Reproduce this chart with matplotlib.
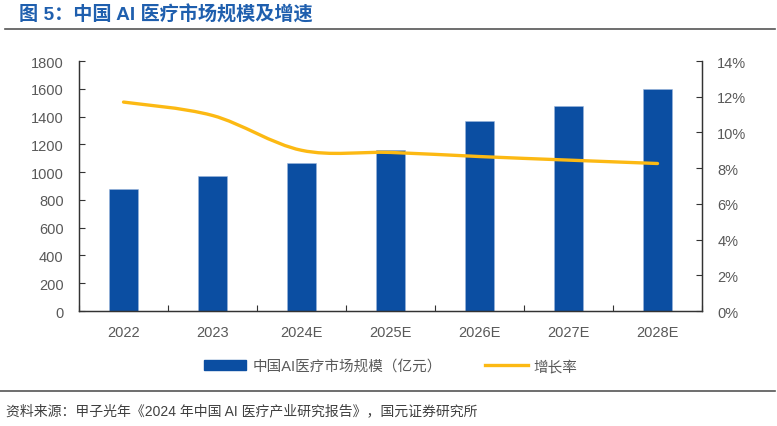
import numpy as np
import matplotlib.pyplot as plt
from matplotlib.path import Path
from matplotlib.patches import PathPatch, Patch
from matplotlib.lines import Line2D
from matplotlib.ticker import FuncFormatter, MultipleLocator

plt.rcParams['font.family'] = ['Liberation Sans', 'Noto Sans CJK SC', 'DejaVu Sans']

years = ["2022", "2023", "2024E", "2025E", "2026E", "2027E", "2028E"]
market = [876, 972, 1063, 1160, 1365, 1478, 1600]
growth = [11.7, 10.95, 9.0, 8.88, 8.65, 8.45, 8.26]

BAR = "#0b4ea2"
LINE = "#fcb913"
GRAY = "#595959"
CJK = ['Liberation Sans', 'Noto Sans CJK SC']

fig = plt.figure(figsize=(7.77, 4.27), dpi=100)
ax = fig.add_axes([0.1017, 0.2693, 0.8018, 0.5855])
ax2 = ax.twinx()

x = np.arange(len(years))
ax.bar(x, market, width=0.32, color=BAR, edgecolor="#9bb6dc", linewidth=0.4, zorder=2)
ax.set_xlim(-0.5, len(years) - 0.5)
ax.set_ylim(0, 1800)
ax.yaxis.set_major_locator(MultipleLocator(200))
ax.set_xticks(x)
ax.set_xticklabels(years)
ax.set_xticks(np.arange(len(years) + 1) - 0.5, minor=True)
ax.tick_params(axis="x", which="major", length=0, pad=10, labelsize=10.5, labelcolor=GRAY)
ax.tick_params(axis="x", which="minor", direction="in", length=4, width=0.8, color="#333333")
ax.tick_params(axis="y", direction="in", length=4, width=0.8, color="#333333",
               labelsize=10.5, labelcolor=GRAY, pad=11)

# growth line, smoothed like the source (bezier through each point)
ax2.set_ylim(0, 14)
pts = np.column_stack([x, growth]).astype(float)
verts = [pts[0]]
codes = [Path.MOVETO]
for i in range(len(pts) - 1):
    p0 = pts[i - 1] if i > 0 else pts[i]
    p1 = pts[i]
    p2 = pts[i + 1]
    p3 = pts[i + 2] if i + 2 < len(pts) else pts[i + 1]
    verts += [p1 + (p2 - p0) / 6, p2 - (p3 - p1) / 6, p2]
    codes += [Path.CURVE4] * 3
ax2.add_patch(PathPatch(Path(verts, codes), fill=False, edgecolor=LINE, linewidth=2.4,
                        capstyle="round", zorder=3))
ax2.yaxis.set_major_locator(MultipleLocator(2))
ax2.yaxis.set_major_formatter(FuncFormatter(lambda v, p: f"{v:.0f}%"))
ax2.tick_params(axis="y", direction="in", length=4, width=0.8, color="#333333",
                labelsize=10.5, labelcolor=GRAY, pad=11)

for a in (ax, ax2):
    a.spines["top"].set_visible(False)
    for s in ("left", "right", "bottom"):
        a.spines[s].set_color("#333333")
        a.spines[s].set_linewidth(0.9)

handles = [Patch(facecolor=BAR, edgecolor=BAR), Line2D([0], [0], color=LINE, lw=2.4)]
labels = ["中国AI医疗市场规模（亿元）", "增长率"]
fig.legend(handles, labels, loc="center", bbox_to_anchor=(0.503, 0.1405), ncol=2, frameon=False,
           prop={"family": CJK, "size": 10.5}, labelcolor=GRAY, handlelength=2.9,
           handleheight=0.7, columnspacing=3.0, handletextpad=0.4)

fig.text(0.024, 0.964, "图 5：中国 AI 医疗市场规模及增速", fontsize=13.8, fontweight="bold",
         color="#1f5fae", va="center", ha="left", family=CJK)
fig.add_artist(Line2D([0.006, 0.997], [0.93, 0.93], color="#555555", lw=1.2))
fig.add_artist(Line2D([0.0, 0.997], [0.082, 0.082], color="#555555", lw=1.2))
fig.text(0.008, 0.036, "资料来源：甲子光年《2024 年中国 AI 医疗产业研究报告》，国元证券研究所",
         fontsize=10, color="#404040", va="center", ha="left", family=CJK)

fig.savefig("out.png", dpi=100)
